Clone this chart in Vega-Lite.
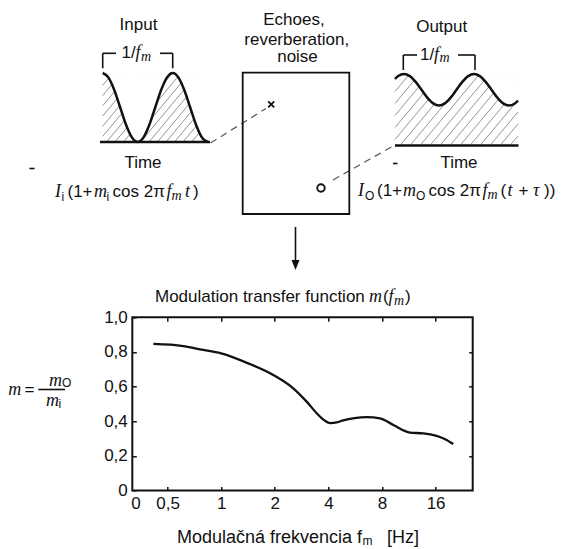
{
  "$schema": "https://vega.github.io/schema/vega-lite/v6.json",
  "width": 340.4,
  "height": 173.2,
  "autosize": {"type": "none"},
  "padding": {"left": 132.3, "top": 317.3, "right": 106.3, "bottom": 58.5},
  "background": "white",
  "config": {
    "view": {"stroke": "#111", "strokeWidth": 2},
    "font": "Liberation Sans",
    "axis": {
      "domain": false, "grid": false, "tickColor": "#111", "tickWidth": 1.5, "tickSize": -4,
      "labelFont": "Liberation Sans", "labelFontSize": 17, "labelColor": "#111", "labelPadding": 9,
      "labelFlush": false, "labelOverlap": false, "labelBound": false, "title": null
    }
  },
  "datasets": {
    "mtf": [
      {"f": 0.416, "m": 0.846}, {"f": 0.612, "m": 0.834}, {"f": 0.76, "m": 0.815}, {"f": 1.0, "m": 0.792},
      {"f": 1.45, "m": 0.73}, {"f": 1.96, "m": 0.667}, {"f": 2.54, "m": 0.59}, {"f": 3.02, "m": 0.513},
      {"f": 3.44, "m": 0.446}, {"f": 3.8, "m": 0.405}, {"f": 4.1, "m": 0.389}, {"f": 4.45, "m": 0.393},
      {"f": 4.85, "m": 0.405}, {"f": 5.6, "m": 0.418}, {"f": 6.56, "m": 0.424}, {"f": 7.8, "m": 0.417},
      {"f": 9.26, "m": 0.378}, {"f": 11.5, "m": 0.334}, {"f": 13.65, "m": 0.33}, {"f": 16.2, "m": 0.315},
      {"f": 18.1, "m": 0.296}, {"f": 20.1, "m": 0.268}
    ],
    "inCurve": [
      {"x": 102.7, "y": 73}, {"x": 108.53, "y": 77.6}, {"x": 114.37, "y": 90.25}, {"x": 120.2, "y": 107.5},
      {"x": 126.03, "y": 124.75}, {"x": 131.87, "y": 137.4}, {"x": 137.7, "y": 142}, {"x": 143.53, "y": 137.4},
      {"x": 149.37, "y": 124.75}, {"x": 155.2, "y": 107.5}, {"x": 161.03, "y": 90.25}, {"x": 166.87, "y": 77.6},
      {"x": 172.7, "y": 73}, {"x": 178.53, "y": 77.6}, {"x": 184.37, "y": 90.25}, {"x": 190.2, "y": 107.5},
      {"x": 196.03, "y": 124.75}, {"x": 201.87, "y": 137.4}, {"x": 207.7, "y": 142}
    ],
    "outCurve": [
      {"x": 395, "y": 78.9}, {"x": 398.17, "y": 76.1}, {"x": 404, "y": 74}, {"x": 409.83, "y": 76.1},
      {"x": 415.67, "y": 81.9}, {"x": 421.5, "y": 89.75}, {"x": 427.33, "y": 97.6}, {"x": 433.17, "y": 103.4},
      {"x": 439, "y": 105.5}, {"x": 444.83, "y": 103.4}, {"x": 450.67, "y": 97.6}, {"x": 456.5, "y": 89.75},
      {"x": 462.33, "y": 81.9}, {"x": 468.17, "y": 76.1}, {"x": 474, "y": 74}, {"x": 479.83, "y": 76.1},
      {"x": 485.67, "y": 81.9}, {"x": 491.5, "y": 89.75}, {"x": 497.33, "y": 97.6}, {"x": 503.17, "y": 103.4},
      {"x": 509, "y": 105.5}, {"x": 514.83, "y": 103.4}, {"x": 518, "y": 100.6}
    ],
    "hatch": [
      {"x": 102.7, "y": 85.36, "x2": 113, "y2": 73}, {"x": 102.7, "y": 95.56, "x2": 121.5, "y2": 73},
      {"x": 102.7, "y": 105.76, "x2": 130, "y2": 73}, {"x": 102.7, "y": 115.96, "x2": 138.5, "y2": 73},
      {"x": 102.7, "y": 126.16, "x2": 147, "y2": 73}, {"x": 102.7, "y": 136.36, "x2": 155.5, "y2": 73},
      {"x": 106.5, "y": 142, "x2": 164, "y2": 73}, {"x": 115, "y": 142, "x2": 172.5, "y2": 73},
      {"x": 123.5, "y": 142, "x2": 181, "y2": 73}, {"x": 132, "y": 142, "x2": 189.5, "y2": 73},
      {"x": 140.5, "y": 142, "x2": 198, "y2": 73}, {"x": 149, "y": 142, "x2": 205, "y2": 74.8},
      {"x": 157.5, "y": 142, "x2": 205, "y2": 85}, {"x": 166, "y": 142, "x2": 205, "y2": 95.2},
      {"x": 174.5, "y": 142, "x2": 205, "y2": 105.4}, {"x": 183, "y": 142, "x2": 205, "y2": 115.6},
      {"x": 191.5, "y": 142, "x2": 205, "y2": 125.8}, {"x": 200, "y": 142, "x2": 205, "y2": 136},
      {"x": 395, "y": 79.5, "x2": 399.58, "y2": 74}, {"x": 395, "y": 91.5, "x2": 409.58, "y2": 74},
      {"x": 395, "y": 103.5, "x2": 419.58, "y2": 74}, {"x": 395, "y": 115.5, "x2": 429.58, "y2": 74},
      {"x": 395, "y": 127.5, "x2": 439.58, "y2": 74}, {"x": 395, "y": 139.5, "x2": 449.58, "y2": 74},
      {"x": 400, "y": 145.5, "x2": 459.58, "y2": 74}, {"x": 410, "y": 145.5, "x2": 469.58, "y2": 74},
      {"x": 420, "y": 145.5, "x2": 479.58, "y2": 74}, {"x": 430, "y": 145.5, "x2": 489.58, "y2": 74},
      {"x": 440, "y": 145.5, "x2": 499.58, "y2": 74}, {"x": 450, "y": 145.5, "x2": 509.58, "y2": 74},
      {"x": 460, "y": 145.5, "x2": 518, "y2": 75.9}, {"x": 470, "y": 145.5, "x2": 518, "y2": 87.9},
      {"x": 480, "y": 145.5, "x2": 518, "y2": 99.9}, {"x": 490, "y": 145.5, "x2": 518, "y2": 111.9},
      {"x": 500, "y": 145.5, "x2": 518, "y2": 123.9}, {"x": 510, "y": 145.5, "x2": 518, "y2": 135.9}
    ],
    "segs": [
      {"k": "heavy", "x": 100, "y": 142, "x2": 210, "y2": 142},
      {"k": "heavy", "x": 395, "y": 145.5, "x2": 518.5, "y2": 145.5},
      {"k": "light", "x": 102.7, "y": 53.3, "x2": 102.7, "y2": 68.3},
      {"k": "light", "x": 102.7, "y": 53.3, "x2": 116, "y2": 53.3},
      {"k": "light", "x": 160, "y": 53.3, "x2": 172.7, "y2": 53.3},
      {"k": "light", "x": 172.7, "y": 53.3, "x2": 172.7, "y2": 68.3},
      {"k": "light", "x": 403.3, "y": 55, "x2": 403.3, "y2": 70},
      {"k": "light", "x": 403.3, "y": 55, "x2": 417, "y2": 55},
      {"k": "light", "x": 458, "y": 55, "x2": 475, "y2": 55},
      {"k": "light", "x": 475, "y": 55, "x2": 475, "y2": 70},
      {"k": "light", "x": 295.5, "y": 227, "x2": 295.5, "y2": 262},
      {"k": "light", "x": 38.3, "y": 389.5, "x2": 65, "y2": 389.5},
      {"k": "light", "x": 29.5, "y": 168.5, "x2": 34.5, "y2": 168.5},
      {"k": "light", "x": 393, "y": 163.5, "x2": 397.5, "y2": 163.5},
      {"k": "dash", "x": 210.5, "y": 143, "x2": 266, "y2": 108.5},
      {"k": "dash", "x": 333, "y": 180, "x2": 394, "y2": 145.5}
    ],
    "box": [{"x": 242.7, "y": 72.7, "x2": 349.3, "y2": 214}],
    "marks": [
      {"k": "x", "x": 271.2, "y": 104.3},
      {"k": "o", "x": 321, "y": 188},
      {"k": "arrow", "x": 295.5, "y": 265}
    ],
    "ctext": [
      {"x": 138.5, "y": 25, "t": "Input"},
      {"x": 441.7, "y": 26.5, "t": "Output"},
      {"x": 294, "y": 20, "t": "Echoes,"},
      {"x": 296.7, "y": 40.3, "t": "reverberation,"},
      {"x": 297.5, "y": 57.5, "t": "noise"},
      {"x": 143, "y": 163.5, "t": "Time"},
      {"x": 459, "y": 163.5, "t": "Time"}
    ],
    "pieces": [
      {"x": 121.5, "y": 57.5, "t": "1/", "s": "rm"},
      {"x": 135.5, "y": 57.5, "t": "f", "s": "it"},
      {"x": 141, "y": 60.5, "t": "m", "s": "subit"},
      {"x": 420, "y": 59.5, "t": "1/", "s": "rm"},
      {"x": 434, "y": 59.5, "t": "f", "s": "it"},
      {"x": 439.5, "y": 62.5, "t": "m", "s": "subit"},
      {"x": 55, "y": 197.5, "t": "I", "s": "it"},
      {"x": 61.5, "y": 201, "t": "i", "s": "sub"},
      {"x": 67.5, "y": 197.5, "t": "(1+", "s": "rm"},
      {"x": 94, "y": 197.5, "t": "m", "s": "it"},
      {"x": 106.5, "y": 201, "t": "i", "s": "sub"},
      {"x": 112.5, "y": 197.5, "t": "cos 2π", "s": "rm"},
      {"x": 166.5, "y": 197.5, "t": "f", "s": "it"},
      {"x": 171.5, "y": 200.5, "t": "m", "s": "subit"},
      {"x": 185, "y": 197.5, "t": "t", "s": "it"},
      {"x": 193, "y": 197.5, "t": ")", "s": "rm"},
      {"x": 358, "y": 196.5, "t": "I", "s": "it"},
      {"x": 365, "y": 200.5, "t": "O", "s": "sub"},
      {"x": 377, "y": 196.5, "t": "(1+", "s": "rm"},
      {"x": 403, "y": 196.5, "t": "m", "s": "it"},
      {"x": 416, "y": 200.5, "t": "O", "s": "sub"},
      {"x": 428.5, "y": 196.5, "t": "cos 2π", "s": "rm"},
      {"x": 482.5, "y": 196.5, "t": "f", "s": "it"},
      {"x": 487.5, "y": 199.5, "t": "m", "s": "subit"},
      {"x": 500.5, "y": 196.5, "t": "(", "s": "rm"},
      {"x": 507.5, "y": 196.5, "t": "t", "s": "it"},
      {"x": 518.5, "y": 196.5, "t": "+", "s": "rm"},
      {"x": 533, "y": 196.5, "t": "τ", "s": "it"},
      {"x": 544, "y": 196.5, "t": "))", "s": "rm"},
      {"x": 155, "y": 302, "t": "Modulation transfer function", "s": "rm"},
      {"x": 369, "y": 302, "t": "m", "s": "it"},
      {"x": 383, "y": 302, "t": "(", "s": "rm"},
      {"x": 388.5, "y": 302, "t": "f", "s": "it"},
      {"x": 394, "y": 305, "t": "m", "s": "subit"},
      {"x": 405, "y": 302, "t": ")", "s": "rm"},
      {"x": 8.3, "y": 395, "t": "m", "s": "it"},
      {"x": 24.5, "y": 395, "t": "=", "s": "rm"},
      {"x": 49, "y": 385.5, "t": "m", "s": "it"},
      {"x": 62, "y": 387, "t": "O", "s": "sub"},
      {"x": 46, "y": 406, "t": "m", "s": "it"},
      {"x": 58.5, "y": 408, "t": "i", "s": "sub"},
      {"x": 177, "y": 543, "t": "Modulačná frekvencia f", "s": "big"},
      {"x": 362.5, "y": 544.5, "t": "m", "s": "sub"},
      {"x": 387, "y": 543, "t": "[Hz]", "s": "big"}
    ]
  },
  "layer": [
    {
      "data": {"name": "mtf"},
      "layer": [
        {
          "mark": {"type": "line", "stroke": "#111", "strokeWidth": 2.3, "interpolate": "monotone"},
          "encoding": {
            "x": {"field": "f", "type": "quantitative",
              "scale": {"type": "log", "base": 2, "domain": [0.3168, 25.85], "nice": false},
              "axis": {"orient": "bottom", "values": [0.33, 0.5, 1, 2, 4, 8, 16],
                "labelExpr": "datum.value < 0.4 ? '0' : replace(toString(datum.value), '.', ',')",
                "tickOpacity": {"condition": {"test": "datum.value < 0.4", "value": 0}, "value": 1}}},
            "y": {"field": "m", "type": "quantitative",
              "scale": {"domain": [0, 1], "nice": false},
              "axis": {"orient": "left", "values": [0, 0.2, 0.4, 0.6, 0.8, 1],
                "labelExpr": "datum.value == 0 ? '0' : replace(format(datum.value, '.1f'), '.', ',')"}}
          }
        },
        {
          "mark": {"type": "line", "opacity": 0},
          "encoding": {
            "x": {"field": "f", "type": "quantitative",
              "scale": {"type": "log", "base": 2, "domain": [0.3168, 25.85], "nice": false},
              "axis": {"orient": "top", "values": [0.5, 1, 2, 4, 8, 16], "labels": false}},
            "y": {"field": "m", "type": "quantitative",
              "scale": {"domain": [0, 1], "nice": false},
              "axis": {"orient": "right", "values": [0.2, 0.4, 0.6, 0.8], "labels": false}}
          }
        }
      ],
      "resolve": {"axis": {"x": "independent", "y": "independent"}}
    },
    {
      "encoding": {
        "x": {"field": "x", "type": "quantitative", "scale": {"domain": [132.3, 472.7], "nice": false, "zero": false}, "axis": null},
        "y": {"field": "y", "type": "quantitative", "scale": {"domain": [317.3, 490.5], "nice": false, "zero": false, "reverse": true}, "axis": null}
      },
      "layer": [
        {"data": {"name": "hatch"}, "mark": {"type": "rule", "stroke": "#888", "strokeWidth": 0.9},
          "encoding": {"x2": {"field": "x2"}, "y2": {"field": "y2"}}},
        {"data": {"name": "inCurve"}, "mark": {"type": "area", "fill": "white", "interpolate": "monotone"},
          "encoding": {"y2": {"datum": 73}}},
        {"data": {"name": "outCurve"}, "mark": {"type": "area", "fill": "white", "interpolate": "monotone"},
          "encoding": {"y2": {"datum": 74}}},
        {"data": {"name": "inCurve"}, "mark": {"type": "line", "stroke": "#111", "strokeWidth": 2.5, "interpolate": "monotone"}, "encoding": {}},
        {"data": {"name": "outCurve"}, "mark": {"type": "line", "stroke": "#111", "strokeWidth": 2.5, "interpolate": "monotone"}, "encoding": {}},
        {"data": {"name": "segs"}, "transform": [{"filter": "datum.k == 'heavy'"}],
          "mark": {"type": "rule", "stroke": "#111", "strokeWidth": 2.5},
          "encoding": {"x2": {"field": "x2"}, "y2": {"field": "y2"}}},
        {"data": {"name": "segs"}, "transform": [{"filter": "datum.k == 'light'"}],
          "mark": {"type": "rule", "stroke": "#111", "strokeWidth": 1.6},
          "encoding": {"x2": {"field": "x2"}, "y2": {"field": "y2"}}},
        {"data": {"name": "segs"}, "transform": [{"filter": "datum.k == 'dash'"}],
          "mark": {"type": "rule", "stroke": "#555", "strokeWidth": 1.2, "strokeDash": [7, 5]},
          "encoding": {"x2": {"field": "x2"}, "y2": {"field": "y2"}}},
        {"data": {"name": "box"}, "mark": {"type": "rect", "fillOpacity": 0, "stroke": "#111", "strokeWidth": 1.8},
          "encoding": {"x2": {"field": "x2"}, "y2": {"field": "y2"}}},
        {"data": {"name": "marks"}, "transform": [{"filter": "datum.k == 'x'"}],
          "mark": {"type": "point", "shape": "M-1,-1L1,1M-1,1L1,-1", "size": 36, "filled": false, "stroke": "#111", "strokeWidth": 1.8, "opacity": 1}},
        {"data": {"name": "marks"}, "transform": [{"filter": "datum.k == 'o'"}],
          "mark": {"type": "point", "shape": "circle", "size": 56, "filled": false, "stroke": "#111", "strokeWidth": 1.9, "opacity": 1}},
        {"data": {"name": "marks"}, "transform": [{"filter": "datum.k == 'arrow'"}],
          "mark": {"type": "point", "shape": "M-0.8,-1L0.8,-1L0,1Z", "size": 100, "filled": true, "fill": "#111", "opacity": 1}},
        {"data": {"name": "ctext"}, "mark": {"type": "text", "font": "Liberation Sans", "fontSize": 17, "fill": "#111", "align": "center", "baseline": "middle"},
          "encoding": {"text": {"field": "t"}}},
        {"data": {"name": "pieces"}, "transform": [{"filter": "datum.s == 'rm'"}],
          "mark": {"type": "text", "font": "Liberation Sans", "fontSize": 17, "fill": "#111", "align": "left", "baseline": "alphabetic"},
          "encoding": {"text": {"field": "t"}}},
        {"data": {"name": "pieces"}, "transform": [{"filter": "datum.s == 'big'"}],
          "mark": {"type": "text", "font": "Liberation Sans", "fontSize": 18, "fill": "#111", "align": "left", "baseline": "alphabetic"},
          "encoding": {"text": {"field": "t"}}},
        {"data": {"name": "pieces"}, "transform": [{"filter": "datum.s == 'it'"}],
          "mark": {"type": "text", "font": "Liberation Serif", "fontStyle": "italic", "fontSize": 18, "fill": "#111", "align": "left", "baseline": "alphabetic"},
          "encoding": {"text": {"field": "t"}}},
        {"data": {"name": "pieces"}, "transform": [{"filter": "datum.s == 'sub'"}],
          "mark": {"type": "text", "font": "Liberation Sans", "fontSize": 12, "fill": "#111", "align": "left", "baseline": "alphabetic"},
          "encoding": {"text": {"field": "t"}}},
        {"data": {"name": "pieces"}, "transform": [{"filter": "datum.s == 'subit'"}],
          "mark": {"type": "text", "font": "Liberation Serif", "fontStyle": "italic", "fontSize": 14, "fill": "#111", "align": "left", "baseline": "alphabetic"},
          "encoding": {"text": {"field": "t"}}}
      ]
    }
  ],
  "resolve": {"scale": {"x": "independent", "y": "independent"}, "axis": {"x": "independent", "y": "independent"}}
}
